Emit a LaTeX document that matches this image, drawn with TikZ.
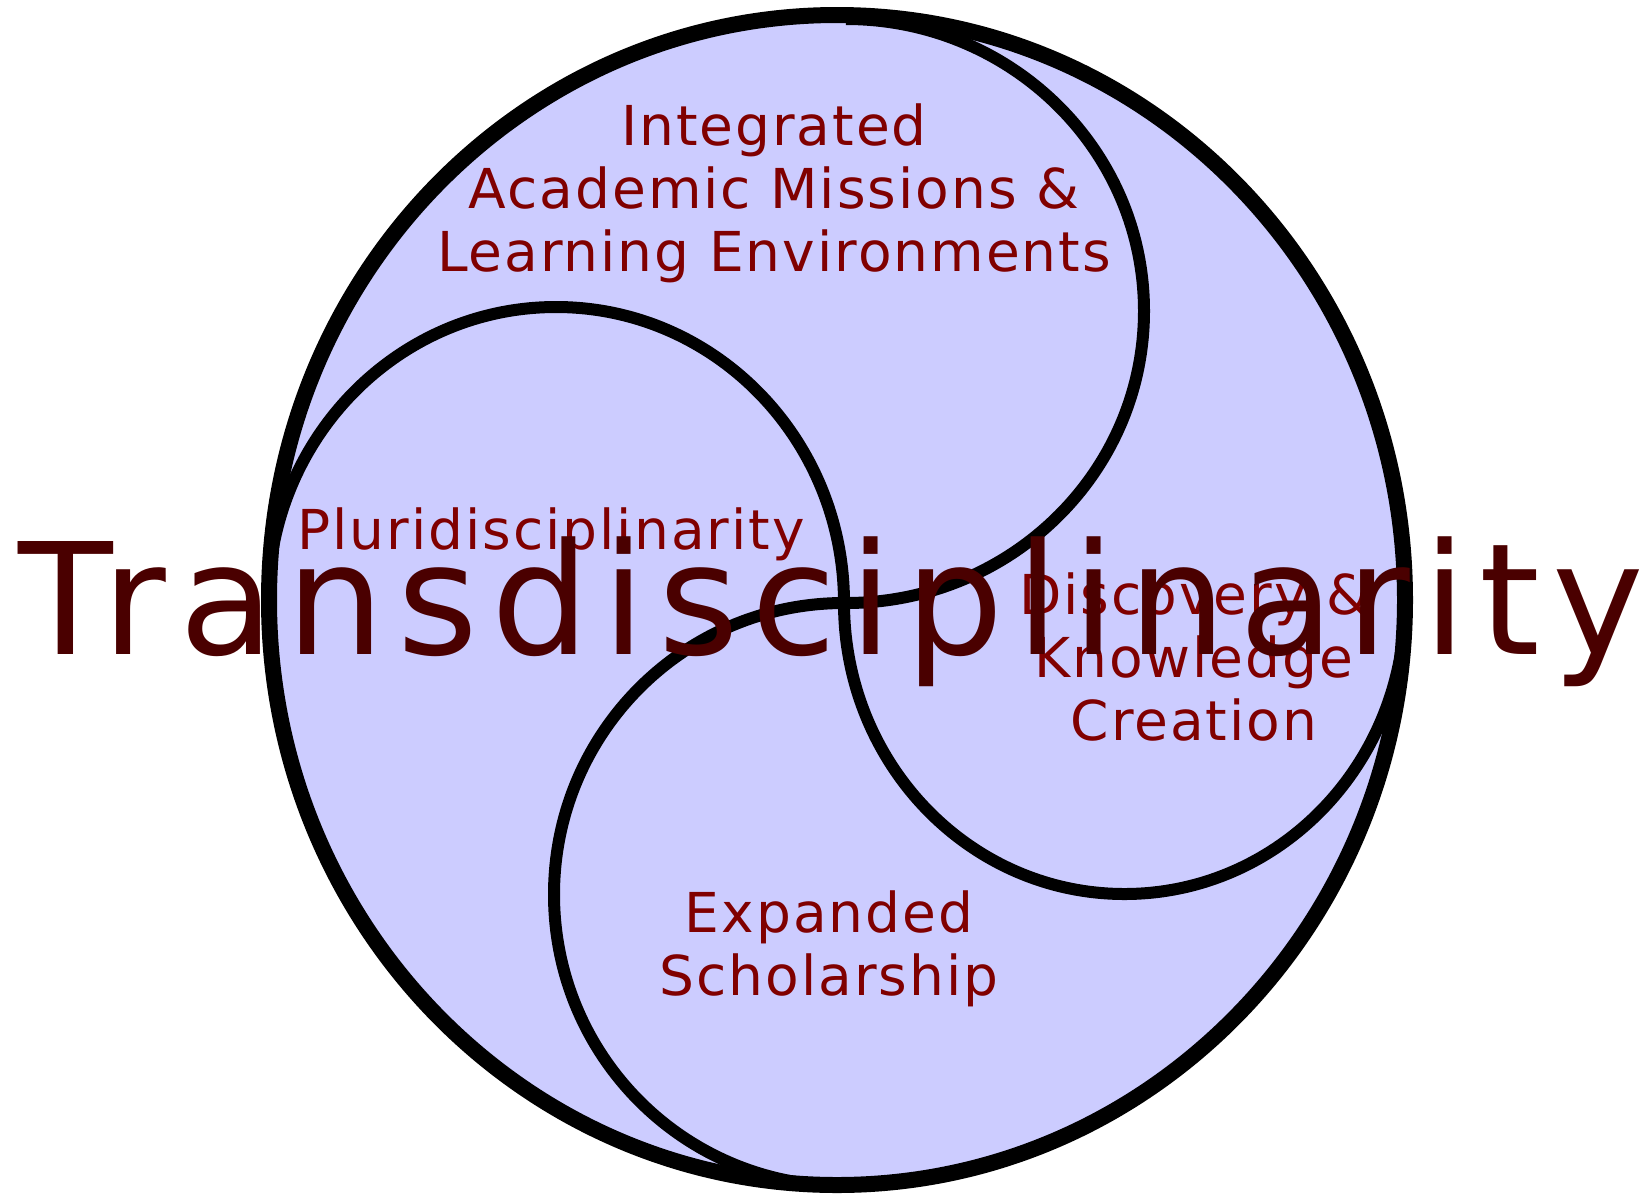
\documentclass[tikz,border=0pt]{standalone}
\usepackage{fontspec}
\setmainfont{DejaVu Sans}
\newfontfamily\bigfont[LetterSpace=8.2]{DejaVu Sans}
\newfontfamily\lblfont[LetterSpace=3.6]{DejaVu Sans}
\definecolor{fillc}{HTML}{CCCCFF}
\definecolor{lblred}{HTML}{800000}
\definecolor{titlered}{HTML}{4A0000}
\begin{document}
\begin{tikzpicture}[x=0.5pt,y=-0.5pt,
  ring/.style={line width=8pt},
  arcline/.style={line width=6pt},
  lbl/.style={text=lblred, font=\lblfont\fontsize{27.5}{31.5}\selectfont, align=center, anchor=base, inner sep=0pt},
  title/.style={text=titlered, font=\bigfont\fontsize{77.5}{90}\selectfont, anchor=base, inner sep=0pt}]
\useasboundingbox (0,0) rectangle (1650,1196);
\coordinate (O) at (837,600);
\coordinate (X) at (844,603);
\coordinate (L) at (268,603);
\coordinate (T) at (846,19);
\fill[fillc] (O) ellipse [x radius=568, y radius=585];
% horizontal S-curve
\draw[arcline] (L) arc[start angle=180, end angle=360, x radius=288, y radius=296];
\draw[arcline] (X) arc[start angle=180, end angle=0, x radius=280.5, y radius=291];
% vertical S-curve
\draw[arcline] (T) arc[start angle=-90, end angle=90, x radius=298, y radius=292];
\draw[arcline] (X) arc[start angle=270, end angle=90, x radius=290, y radius=291.5];
% outer ring
\draw[ring] (O) ellipse [x radius=568, y radius=585];
% labels (anchored at the baseline of their last line)
\node[lbl] (iam) at (774,271) {Integrated\\Academic Missions \&\\Learning Environments};
\node[lbl] (plu) at (551,549) {Pluridisciplinarity};
\node[lbl] (dkc) at (1194,740) {Discovery \&\\Knowledge\\Creation};
\node[lbl] (exs) at (829,995) {Expanded\\Scholarship};
\node[title] (trans) at (831,654) {Transdisciplinarity};
\end{tikzpicture}
\end{document}
